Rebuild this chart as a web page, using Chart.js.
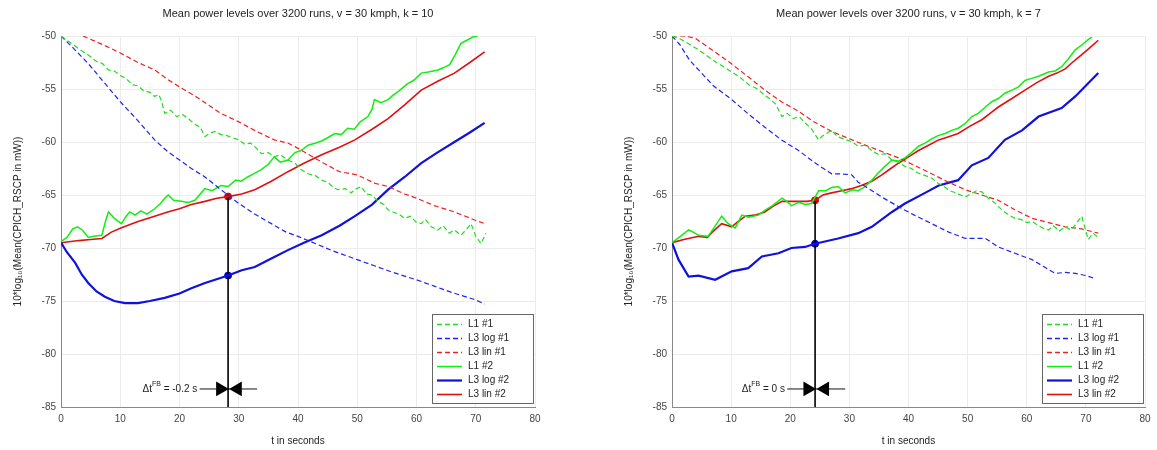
<!DOCTYPE html>
<html>
<head>
<meta charset="utf-8">
<script src="https://cdn.jsdelivr.net/npm/chart.js@4.4.1/dist/chart.umd.min.js"></script>
<style>
body{margin:0;background:#fff;}
#left{position:absolute;left:0;top:0;}
#right{position:absolute;left:611px;top:0;}
</style>
</head>
<body>
<canvas id="left" width="578" height="450"></canvas>
<canvas id="right" width="546" height="450"></canvas>
<script>
// ---- data: [t in s, level] ----
// left panel, k = 10
var l1n1L = [[0,-50],[2,-50.8],[3,-51.2],[4.6,-51.8],[6,-52.4],[7,-52.6],[8,-53.2],[9,-53.3],[10.2,-53.8],[11,-54],[12,-54.6],[13,-54.7],[14,-55.2],[15,-55.3],[15.8,-55.7],[16.5,-55.5],[17,-56.2],[17.5,-57.3],[18.5,-57],[19.5,-57.6],[20.5,-57.4],[21.5,-57.8],[22.5,-58.3],[23.5,-58.6],[24.3,-59.5],[25,-59.2],[26,-59],[27,-59.3],[28,-59.4],[29,-59.6],[30,-59.8],[31,-60.2],[32,-60.1],[33,-60.6],[33.8,-61.1],[35,-61],[36,-61.4],[37,-61.2],[38.3,-61.7],[39.5,-62],[40.5,-62.6],[41.7,-63],[43,-63.2],[44,-63.6],[45,-63.8],[46,-64.3],[46.7,-64.5],[48,-64.4],[49,-64.8],[49.5,-64.5],[50.7,-64.2],[51.5,-64.9],[52.5,-65],[53.5,-65.6],[54.5,-65.9],[55.2,-66.4],[56,-66.6],[57,-66.8],[58,-67.2],[59,-67],[60,-67.6],[60.8,-67.7],[61.5,-67.3],[62.5,-68],[63.6,-68.3],[64.5,-67.9],[65.5,-68.6],[66.4,-68.3],[67.5,-68.8],[68.5,-68.2],[69.2,-67.7],[70,-68.9],[70.9,-69.6],[71.7,-68.6]];
var l3log1L = [[0,-50],[2,-51.1],[4.6,-52.6],[7,-54.2],[10,-56.2],[13,-58],[15.8,-59.8],[18,-60.9],[20,-61.7],[22,-62.5],[24.3,-63.3],[27,-64.5],[30,-65.8],[32.7,-66.8],[35.5,-67.7],[38,-68.5],[40,-68.9],[43,-69.6],[46,-70.3],[50,-71.1],[53,-71.7],[56,-72.3],[60,-73],[63,-73.6],[66,-74.2],[70,-74.9],[71.5,-75.3]];
var l3lin1L = [[3.7,-50],[7,-50.8],[10,-51.6],[13,-52.5],[15.8,-53.2],[18,-54.1],[20,-54.8],[23,-55.8],[27,-57.3],[30,-58.1],[33,-59],[36,-59.8],[38.3,-60.1],[40,-60.6],[44,-61.9],[47,-62.8],[50,-63.1],[53,-63.9],[55.2,-64.2],[58,-64.9],[60,-65.3],[63,-66],[66.4,-66.6],[70,-67.4],[71.5,-67.7]];
var l1n2L = [[0,-69.4],[1,-69],[2,-68.2],[2.8,-68],[3.6,-68.3],[4.6,-69],[5.5,-68.9],[6.9,-68.8],[7.5,-67.5],[8,-66.6],[9,-67.2],[10.2,-67.7],[11,-67],[11.6,-66.6],[12.5,-66.9],[13.5,-66.5],[14.5,-66.8],[15.8,-66.3],[16.8,-65.8],[17.5,-65.3],[18.1,-65],[19,-65.5],[20.3,-65.6],[21.5,-65.7],[22.6,-65.5],[23.5,-64.9],[24.3,-64.4],[25.5,-64.6],[27,-64.1],[28.2,-64.2],[29.5,-63.6],[30.4,-63.7],[31.5,-63.3],[32.5,-63],[33.8,-62.6],[35,-62.1],[36,-61.4],[37,-61.9],[38.3,-61.7],[39.5,-61],[40.5,-60.8],[41.7,-60.3],[43,-60.1],[44,-59.9],[45,-59.6],[46.2,-59.2],[47.3,-59.3],[48.4,-58.7],[49.5,-58.8],[50.5,-58.1],[51.8,-57.6],[52.5,-56.9],[52.9,-56],[54,-56.3],[55.2,-56],[56,-55.6],[57,-55.2],[58.5,-54.5],[59.5,-54.2],[60.8,-53.5],[62,-53.4],[63.6,-53.2],[64.5,-53],[65.6,-52.7],[66.5,-51.8],[67.5,-50.7],[68.5,-50.4],[69.5,-50.1],[70.3,-50]];
var l3log2L = [[0,-69.5],[1,-70.4],[2.4,-71.4],[3.5,-72.5],[4.6,-73.3],[6,-74.1],[7.4,-74.6],[9,-75],[10.8,-75.2],[13,-75.2],[15,-75],[17.5,-74.7],[20,-74.3],[22,-73.8],[24.3,-73.3],[26,-73],[28.2,-72.6],[30.5,-72.1],[32.7,-71.8],[35.5,-71],[38.3,-70.2],[41,-69.5],[44,-68.8],[47,-67.9],[49.6,-67],[52.5,-65.9],[55.2,-64.5],[58,-63.3],[60.8,-62],[63.5,-61],[66.4,-60],[69,-59.1],[71.5,-58.2]];
var l3lin2L = [[0,-69.5],[3,-69.3],[5,-69.2],[6.9,-69.1],[8.5,-68.5],[10.2,-68.1],[13,-67.5],[15.8,-67],[18,-66.6],[20,-66.3],[22,-65.9],[24.3,-65.6],[26.3,-65.3],[28.2,-65.15],[30.5,-64.9],[32.7,-64.5],[35.5,-63.7],[38.3,-62.8],[41,-62],[44,-61.2],[47,-60.5],[49.6,-59.8],[52.5,-58.8],[55.2,-57.8],[58,-56.5],[60.8,-55.1],[63.5,-54.3],[66.4,-53.5],[69,-52.5],[71.5,-51.5]];
// right panel, k = 7
var l1n1R = [[0,-50],[1.5,-50.3],[3,-50.8],[4.5,-51.3],[6,-51.9],[7.5,-52.5],[9,-53],[10.1,-53.4],[11.5,-53.9],[13,-54.6],[14.5,-55],[15.7,-55.6],[16.5,-55.9],[17.5,-56.4],[18.6,-57.6],[19.5,-57.3],[20.5,-57.8],[21.5,-57.6],[22.5,-58.2],[23.5,-58.7],[24.8,-59.8],[25.5,-59.4],[27,-58.9],[28,-59.5],[29,-59.7],[30.5,-60],[31.5,-60.4],[32.7,-60.3],[34,-60.9],[35,-61.2],[36,-61.1],[37.2,-61.7],[38.3,-61.9],[39.4,-62.3],[40.5,-62.5],[41.5,-62.9],[42.5,-63.1],[43.9,-63.4],[45,-63.9],[46,-64.2],[47,-64.6],[48,-64.8],[49.6,-65.2],[50.5,-64.9],[51.5,-64.6],[52.4,-64.7],[53.5,-65.3],[54.5,-65.7],[55.2,-66.1],[56,-66.5],[57,-66.9],[58,-67.2],[59,-67.3],[60,-67.6],[60.9,-67.5],[62,-67.9],[63,-68.2],[63.7,-68.3],[64.5,-67.9],[65.5,-68.4],[66.5,-68],[67.5,-68.3],[68.5,-67.6],[69.3,-67],[70.4,-69.2],[71.2,-68.6],[72.1,-69]];
var l3log1R = [[0,-50],[1.3,-50.8],[3,-52.3],[4.5,-53.2],[7,-54.7],[10.1,-56],[13,-57.4],[15.7,-58.6],[18.5,-59.8],[21.4,-60.8],[24,-61.9],[27,-63],[28.5,-63],[30.4,-63.1],[31.5,-63.8],[32.7,-64.2],[35.5,-65.2],[38.3,-66.1],[41,-66.9],[43.9,-67.7],[46.8,-68.5],[49.6,-69.1],[51,-69.1],[53,-69.1],[55.2,-69.9],[58,-70.5],[60.9,-71.1],[63,-71.8],[64.8,-72.4],[66.5,-72.3],[68.2,-72.4],[70,-72.6],[71.6,-72.9]];
var l3lin1R = [[0,-50],[2,-50],[3.9,-50.2],[7,-51.4],[10,-52.6],[13,-53.9],[15.7,-55.1],[18.5,-56.2],[21.4,-57.1],[24,-58.1],[27,-59],[30,-59.7],[32.7,-60.3],[35.5,-60.9],[38.3,-61.5],[41,-62.2],[43.9,-63],[46.8,-63.8],[49.6,-64.5],[52.4,-65],[55.2,-65.5],[58,-66.4],[60.9,-67.2],[63.7,-67.6],[66.5,-68],[69.3,-68.2],[72.1,-68.6]];
var l1n2R = [[0,-69.5],[1.2,-69],[2.8,-68.3],[3.6,-68.5],[4.5,-68.8],[6.1,-68.9],[7.2,-68],[8.4,-67],[9.5,-67.7],[10.7,-68.1],[11.8,-66.9],[13,-67.1],[14.6,-66.9],[15.8,-66.4],[17,-66],[18.6,-65.3],[19.4,-65.6],[20.2,-66],[21.5,-65.7],[22.5,-65.9],[23.6,-65.8],[24.8,-64.6],[26,-64.6],[27,-64.3],[28.1,-64.2],[29.3,-64.8],[30.5,-64.5],[31.5,-64.6],[32.7,-64.2],[33.8,-63.6],[34.9,-62.9],[36,-62.3],[37.2,-61.7],[38.3,-61.8],[39.4,-61.5],[40.5,-61],[41.7,-60.4],[42.8,-60.1],[43.9,-59.7],[45,-59.4],[46.2,-59.2],[47.3,-58.9],[48.4,-58.7],[49.5,-58.3],[50.7,-57.6],[51.8,-57.3],[53,-56.7],[54.1,-56.2],[55.2,-55.9],[56.3,-55.4],[57.5,-55.1],[58.6,-54.8],[59.7,-54.2],[60.8,-54],[62,-53.8],[63.7,-53.4],[64.8,-53.3],[65.9,-52.9],[67,-52.2],[68.2,-51.3],[69.4,-50.8],[70.5,-50.3],[71,-50.1]];
var l3log2R = [[0,-69.5],[1.1,-71.1],[2.8,-72.7],[4.5,-72.6],[7.3,-73],[10.1,-72.2],[12.9,-71.9],[15.2,-70.8],[18,-70.5],[20.2,-70],[22.5,-69.9],[24.2,-69.6],[28.1,-69.1],[31.5,-68.6],[33.8,-68],[37.2,-66.6],[39.4,-65.8],[42.8,-64.8],[45.1,-64.1],[48.4,-63.6],[50.7,-62.2],[53.5,-61.5],[56.3,-59.8],[59.2,-58.9],[62,-57.6],[65.9,-56.8],[68.2,-55.7],[72.1,-53.5]];
var l3lin2R = [[0,-69.5],[2,-69.2],[4.5,-68.9],[6,-69],[7,-68.4],[8.4,-67.7],[10.1,-68],[11.2,-67.5],[12.4,-67],[14,-66.9],[15.7,-66.6],[17,-66.1],[18.6,-65.6],[20,-65.6],[21.4,-65.6],[22.8,-65.6],[24.2,-65.5],[25.5,-65],[27,-64.8],[28.7,-64.6],[30.4,-64.4],[32,-64.1],[33.8,-63.7],[35.5,-63.1],[37,-62.5],[38.3,-62],[40,-61.4],[41.7,-60.8],[43.4,-60.3],[45.1,-59.8],[46.8,-59.5],[48.4,-59.2],[50.4,-58.5],[52.4,-57.9],[53.8,-57.3],[55.2,-56.7],[57.5,-55.9],[59.7,-55.1],[61.7,-54.4],[63.7,-53.8],[65.1,-53.5],[66.5,-53.1],[67.7,-52.5],[68.8,-52],[70.5,-51.2],[72.1,-50.4]];

// feedback instant: [t, level on L3 lin #2, level on L3 log #2]
var fbLeft = [28.2, -65.15, -72.6];
var fbRight = [24.2, -65.5, -69.6];
// delta-t error bar: [t from, t to, level, bow-tie centre]
var errLeft = [23.4, 33.1, -83.3, 28.35];
var errRight = [19.5, 29.3, -83.3, 24.4];

var seriesNames = ["L1 #1", "L3 log #1", "L3 lin #1", "L1 #2", "L3 log #2", "L3 lin #2"];
var xTicks = [0, 10, 20, 30, 40, 50, 60, 70, 80];
var yTicks = [-85, -80, -75, -70, -65, -60, -55, -50];

var FONT = "'Liberation Sans', Arial, sans-serif";
function xy(p) { return p.map(function(q){ return {x: q[0], y: q[1]}; }); }

var styles = [
  {color: "#22dd22", width: 1.2, dash: [5, 3]},
  {color: "#2222ee", width: 1.2, dash: [5, 3]},
  {color: "#ee2222", width: 1.2, dash: [5, 3]},
  {color: "#11ee11", width: 1.5, dash: []},
  {color: "#1111dd", width: 2.2, dash: []},
  {color: "#dd1111", width: 1.6, dash: []}
];

function buildData(series, fb, err) {
  var ds = series.map(function(s, i){
    return {
      label: seriesNames[i], data: xy(s), borderColor: styles[i].color,
      borderWidth: styles[i].width, borderDash: styles[i].dash,
      pointRadius: 0, tension: 0, fill: false
    };
  });
  ds.push({label: "fb", data: xy([[fb[0], fb[1]], [fb[0], -85]]), borderColor: "#000", borderWidth: 1.6, pointRadius: 0});
  ds.push({label: "mk1", data: xy([[fb[0], fb[1]]]), showLine: false, pointRadius: 3.5, pointBackgroundColor: "#cc0000", pointBorderColor: "#cc0000"});
  ds.push({label: "mk2", data: xy([[fb[0], fb[2]]]), showLine: false, pointRadius: 3.5, pointBackgroundColor: "#0000cc", pointBorderColor: "#0000cc"});
  ds.push({label: "err", data: xy([[err[0], err[2]], [err[1], err[2]]]), borderColor: "#111", borderWidth: 1, pointRadius: 0});
  ds.push({label: "bow", data: xy([[err[3] - 1.45, err[2]], [err[3] + 1.45, err[2]]]), showLine: false,
    pointStyle: "triangle", pointRotation: [90, -90], pointRadius: 8.5,
    pointBackgroundColor: "#000", pointBorderColor: "#000", pointBorderWidth: 0});
  return {datasets: ds};
}

var panelTitle = {
  id: "panelTitle",
  afterDraw: function(chart, args, o) {
    var c = chart.ctx, a = chart.chartArea;
    c.save();
    c.font = "11px " + FONT; c.fillStyle = "#222"; c.textAlign = "center"; c.textBaseline = "middle";
    c.fillText(o.text, (a.left + a.right) / 2, 14);
    c.restore();
  }
};

var fbNote = {
  id: "fbNote",
  afterDatasetsDraw: function(chart, args, o) {
    var c = chart.ctx, sx = chart.scales.x, sy = chart.scales.y;
    var px = sx.getPixelForValue(o.t), py = sy.getPixelForValue(o.v);
    var big = "10px " + FONT, small = "7px " + FONT;
    c.save();
    c.fillStyle = "#222"; c.textBaseline = "middle"; c.textAlign = "left";
    c.font = big; var w1 = c.measureText("\u0394t").width, w3 = c.measureText(o.tail).width;
    c.font = small; var w2 = c.measureText("FB").width;
    var x0 = px - (w1 + w2 + w3);
    c.font = big; c.fillText("\u0394t", x0, py);
    c.font = small; c.fillText("FB", x0 + w1, py - 5);
    c.font = big; c.fillText(o.tail, x0 + w1 + w2, py);
    c.restore();
  }
};

// legend box in the lower right corner of the plot, drawn from the series styles
var boxLegend = {
  id: "boxLegend",
  afterDatasetsDraw: function(chart) {
    var c = chart.ctx, a = chart.chartArea;
    var w = 101, h = 89, right = a.right - 2, bottom = a.bottom - 4;
    var left = right - w, top = bottom - h;
    c.save();
    c.fillStyle = "#fff"; c.fillRect(left, top, w, h);
    c.strokeStyle = "#666"; c.lineWidth = 1; c.strokeRect(left + 0.5, top + 0.5, w, h);
    c.font = "10px " + FONT; c.textBaseline = "middle";
    for (var i = 0; i < 6; i++) {
      var st = styles[i], yy = Math.round(top + 9.5 + i * 14) + 0.5;
      c.strokeStyle = st.color; c.lineWidth = Math.max(st.width, 1.4); c.setLineDash(st.dash);
      c.beginPath(); c.moveTo(left + 5, yy); c.lineTo(left + 30, yy); c.stroke();
      c.setLineDash([]);
      c.fillStyle = "#222";
      c.fillText(seriesNames[i], left + 36, yy);
    }
    c.restore();
  }
};

function makeChart(id, series, fb, err, title, tail, padRight) {
  return new Chart(document.getElementById(id), {
    type: "line",
    data: buildData(series, fb, err),
    plugins: [panelTitle, fbNote, boxLegend],
    options: {
      responsive: false,
      animation: false,
      layout: {padding: {top: 36, right: padRight, bottom: 0, left: 0}},
      plugins: {
        legend: {display: false},
        tooltip: {enabled: false},
        panelTitle: {text: title},
        fbNote: {t: err[0] - 0.4, v: err[2], tail: tail}
      },
      scales: {
        x: {
          type: "linear", min: 0, max: 80,
          afterBuildTicks: function(s){ s.ticks = xTicks.map(function(v){ return {value: v}; }); },
          afterFit: function(s){ s.height = 43; },
          grid: {color: "#ececec", drawTicks: false},
          border: {color: "#888"},
          ticks: {padding: 6, color: "#444", font: {family: FONT, size: 10}},
          title: {display: true, text: "t in seconds", color: "#222", font: {family: FONT, size: 10}, padding: {top: 3, bottom: 3}}
        },
        y: {
          min: -85, max: -50,
          afterBuildTicks: function(s){ s.ticks = yTicks.map(function(v){ return {value: v}; }); },
          afterFit: function(s){ s.width = 61; },
          grid: {color: "#ececec", drawTicks: false},
          border: {color: "#888"},
          ticks: {padding: 5, color: "#444", font: {family: FONT, size: 10}},
          title: {display: true, text: "10*log\u2081\u2080(Mean(CPICH_RSCP in mW))", color: "#222", font: {family: FONT, size: 10}, padding: {top: 12, bottom: 12}}
        }
      }
    }
  });
}

makeChart("left", [l1n1L, l3log1L, l3lin1L, l1n2L, l3log2L, l3lin2L], fbLeft, errLeft,
  "Mean power levels over 3200 runs, v = 30 kmph, k = 10", " = -0.2 s", 43);
makeChart("right", [l1n1R, l3log1R, l3lin1R, l1n2R, l3log2R, l3lin2R], fbRight, errRight,
  "Mean power levels over 3200 runs, v = 30 kmph, k = 7", " = 0 s", 12);
</script>
</body>
</html>
